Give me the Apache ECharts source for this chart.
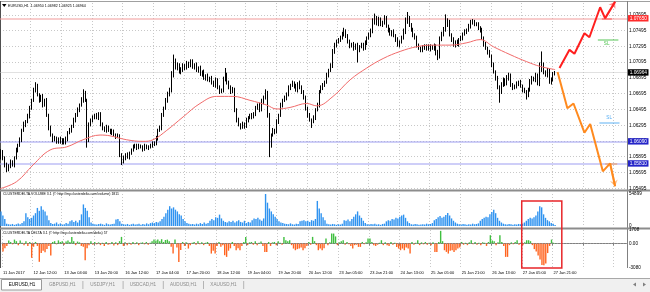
<!DOCTYPE html>
<html>
<head>
<meta charset="utf-8">
<script src="https://cdn.jsdelivr.net/npm/echarts@6.0.0/dist/echarts.min.js"></script>
<style>
html,body{margin:0;padding:0;background:#fff;overflow:hidden;}
#c{width:650px;height:292px;}
</style>
</head>
<body>
<div id="c"></div>
<script>
// ---------------- DATA ----------------
const symbolName = 'EURUSD,H1';
const timeLabels = ['11 Jan 2017','12 Jan 12:00','13 Jan 04:00','13 Jan 20:00','16 Jan 12:00','17 Jan 04:00','17 Jan 20:00','18 Jan 12:00','19 Jan 04:00','19 Jan 20:00','20 Jan 12:00','23 Jan 05:00','23 Jan 21:00','24 Jan 13:00','25 Jan 05:00','25 Jan 21:00','26 Jan 13:00','27 Jan 05:00','27 Jan 21:00'];
const priceTicks = [1.05495,1.05695,1.05895,1.06095,1.06295,1.06495,1.06695,1.06895,1.07095,1.07295,1.07495,1.07695];
const priceMin = 1.05486, priceMax = 1.07844;

const firstOpen = 1.0590;
const closes = [
1.0596,1.0588,1.0579,1.0573,1.0578,1.0583,1.0579,1.0588,1.0598,1.0604,
1.0611,1.0623,1.0630,1.0634,1.0641,1.0651,1.0661,1.0674,1.0679,1.0668,
1.0661,1.0665,1.0655,1.0661,1.0642,1.0626,1.0617,1.0611,1.0613,1.0609,
1.0612,1.0608,1.0611,1.0607,1.0612,1.0620,1.0623,1.0628,1.0636,1.0642,
1.0649,1.0655,1.0661,1.0670,1.0661,1.0611,1.0630,1.0636,1.0639,1.0642,
1.0639,1.0644,1.0630,1.0626,1.0623,1.0627,1.0623,1.0620,1.0622,1.0617,
1.0615,1.0616,1.0592,1.0583,1.0588,1.0592,1.0589,1.0594,1.0598,1.0602,
1.0604,1.0601,1.0603,1.0602,1.0599,1.0603,1.0601,1.0602,1.0603,1.0607,
1.0606,1.0613,1.0623,1.0626,1.0642,1.0651,1.0661,1.0668,1.0674,1.0693,
1.0710,1.0702,1.0706,1.0697,1.0699,1.0705,1.0702,1.0707,1.0705,1.0710,
1.0703,1.0706,1.0699,1.0702,1.0694,1.0697,1.0689,1.0692,1.0687,1.0689,
1.0684,1.0680,1.0687,1.0677,1.0672,1.0674,1.0687,1.0693,1.0684,1.0677,
1.0672,1.0674,1.0649,1.0636,1.0630,1.0627,1.0631,1.0628,1.0636,1.0639,
1.0642,1.0640,1.0644,1.0651,1.0655,1.0649,1.0659,1.0664,1.0667,1.0642,
1.0604,1.0617,1.0623,1.0621,1.0634,1.0642,1.0655,1.0661,1.0664,1.0668,
1.0677,1.0680,1.0683,1.0679,1.0674,1.0682,1.0677,1.0672,1.0664,1.0651,
1.0642,1.0636,1.0634,1.0639,1.0649,1.0655,1.0672,1.0677,1.0680,1.0684,
1.0693,1.0699,1.0705,1.0722,1.0731,1.0735,1.0738,1.0740,1.0744,1.0748,
1.0743,1.0735,1.0730,1.0732,1.0727,1.0731,1.0725,1.0729,1.0731,1.0727,
1.0734,1.0740,1.0744,1.0748,1.0760,1.0765,1.0758,1.0763,1.0757,1.0760,
1.0765,1.0755,1.0750,1.0745,1.0748,1.0743,1.0738,1.0731,1.0735,1.0740,
1.0748,1.0760,1.0765,1.0757,1.0750,1.0744,1.0740,1.0731,1.0727,1.0725,
1.0729,1.0727,1.0730,1.0726,1.0729,1.0727,1.0730,1.0722,1.0717,1.0738,
1.0745,1.0750,1.0757,1.0760,1.0744,1.0738,1.0731,1.0735,1.0732,1.0738,
1.0740,1.0745,1.0748,1.0750,1.0755,1.0759,1.0760,1.0758,1.0757,1.0753,
1.0750,1.0740,1.0732,1.0727,1.0722,1.0717,1.0706,1.0697,1.0689,1.0677,
1.0672,1.0680,1.0687,1.0682,1.0689,1.0693,1.0680,1.0677,1.0679,1.0682,
1.0684,1.0679,1.0674,1.0672,1.0668,1.0674,1.0684,1.0689,1.0687,1.0692,
1.0682,1.0699,1.0706,1.0697,1.0693,1.0699,1.0684,1.0687,1.0695,1.06964
];
// upper / lower wick lengths in pips (0.0001)
const wickUp = [
3,2,2,3,2,3,2,2,3,2, 3,2,4,2,3,3,2,3,5,3, 2,3,4,2,3,2,3,2,3,2, 2,3,2,2,3,2,3,2,3,3,
3,2,4,5,3,2,3,2,3,2, 3,2,2,3,2,3,2,2,3,2, 2,3,2,2,3,2,3,2,2,3, 2,2,3,2,2,3,2,2,3,2,
2,3,2,3,3,2,3,4,3,5, 9,4,3,2,4,3,2,4,3,3, 3,2,3,2,3,2,3,2,3,2, 3,2,3,2,3,2,4,9,3,2,
3,4,3,2,3,2,3,2,3,2, 2,3,2,3,2,3,4,3,8,6, 3,2,3,2,3,2,3,2,3,3, 3,2,3,2,3,2,4,3,2,3,
2,3,2,3,2,3,2,3,3,2, 3,2,3,4,3,3,2,3,4,5, 3,2,3,2,3,2,3,2,3,3, 3,2,3,4,5,6,3,4,3,2,
4,3,2,3,2,3,2,3,2,3, 4,6,8,3,2,3,2,3,2,2, 2,3,2,2,3,2,3,2,3,4, 3,4,13,5,3,2,3,2,3,2,
3,2,3,2,3,4,4,3,2,3, 2,3,2,3,2,3,2,3,2,3, 3,4,3,2,4,3,2,3,2,3, 2,3,2,3,2,3,4,3,2,4,
3,10,17,3,2,3,2,3,2,1.8
];
const wickDn = [
4,3,3,3,2,3,2,3,2,3, 2,3,2,3,2,3,2,2,3,2, 3,2,3,2,2,3,2,3,2,3, 3,2,3,2,2,3,2,3,2,3,
2,3,2,3,2,10,3,2,3,2, 2,3,2,3,2,3,2,2,3,2, 3,2,3,4,2,3,2,3,2,2, 2,3,2,2,3,2,2,3,2,2,
3,2,3,2,3,2,2,3,2,3, 3,2,3,2,3,2,3,2,3,2, 2,3,2,3,2,3,2,3,2,3, 3,2,3,2,3,2,3,2,3,2,
3,2,3,3,2,3,2,3,2,3, 2,3,2,3,2,3,2,3,2,3, 15,3,2,3,2,3,2,3,2,3, 2,3,2,3,2,3,2,3,2,3,
3,2,8,2,3,2,3,2,3,2, 2,3,2,3,2,3,2,3,2,2, 3,2,3,2,3,2,16,3,2,3, 2,3,2,3,2,3,2,3,2,3,
3,2,3,2,3,2,3,2,3,2, 2,3,2,3,2,3,2,3,2,3, 3,2,3,2,3,2,3,4,5,3, 2,3,2,3,2,3,2,3,2,3,
2,3,2,3,2,3,2,3,2,3, 3,2,3,2,3,2,3,2,3,2, 14,3,2,3,2,3,2,3,2,3, 3,2,3,2,6,3,2,3,2,3,
2,3,2,3,2,3,2,3,2,2.5
];
const volume = [
25000,18000,12000,4000,3000,2500,3500,2000,3000,4500,
3000,5000,8000,22000,15000,12000,14000,18000,22000,31000,
26000,34000,28000,25000,18000,10000,5000,3500,4000,6000,
3000,4500,2500,3000,5000,4000,8000,10000,7000,9000,
6000,10000,20000,37000,31000,26000,15000,6000,4000,3000,
2500,3500,4000,3000,2000,4500,3000,2500,3500,4000,
11000,12000,8000,4000,3000,2500,3500,2000,3000,4000,
2500,3000,4000,2000,3500,2500,4500,3000,5000,6000,
5000,7000,6000,8000,12000,16000,22000,28000,34000,30000,
32000,28000,25000,20000,18000,12000,8000,5000,4000,3000,
3500,2500,4000,3000,5000,3500,6000,4000,5000,9000,
12000,10000,15000,14000,19500,13000,9000,7000,6000,8000,
7000,9000,6000,8000,10000,7000,6000,9000,5000,7000,
6000,10000,13000,12000,14000,11000,9000,13000,54899,40000,
30000,25000,20000,16000,12000,8000,6000,5000,4000,3500,
3000,4500,3000,2500,4000,3500,8000,9000,10000,8000,
9000,7000,10000,9000,12000,43000,30000,22000,15000,10000,
4000,3000,2500,3500,3000,2000,3000,2500,4000,10000,
9000,11000,8000,12000,16000,20000,25000,18000,14000,9000,
5000,3000,2500,3500,3000,4000,2500,3000,2000,3500,
4000,8000,10000,9000,12000,11000,14000,13000,16000,18000,
19500,14000,8000,5000,3000,2500,3500,3000,2000,2500,
3000,2500,4000,3000,3500,5000,10000,12000,15000,17000,
14000,16000,19000,22400,18000,13000,9000,6000,4000,3000,
2500,3500,3000,2000,3000,2500,4000,3000,3500,4500,
9000,12000,14000,16000,15000,20000,24000,28000,22000,14000,
9000,6000,4000,3000,2500,3500,3000,2000,3000,2500,
3500,3000,4000,6000,9000,12000,14000,13000,15000,18000,
25000,34000,32000,20000,14000,10000,8000,5000,4000,1811
];
const volMax = 54899;
const delta = [
-1000,-600,-300,400,200,-100,500,300,-200,400,
100,-200,300,-300,200,-1800,-400,200,-300,-2300,
-1200,-900,-1100,-700,-300,-1500,200,300,-100,400,
200,300,-150,250,400,200,840,300,-200,250,
150,-300,-400,-2100,-600,-200,300,-150,200,-100,
150,-200,100,-300,200,-150,-100,200,-250,150,
-200,300,840,-300,150,-200,100,-150,200,-100,
150,-200,100,150,-100,200,-150,100,300,500,
400,500,300,550,200,450,500,300,-400,-1260,
500,-500,-2310,-800,200,-300,150,-630,-200,100,
200,-150,300,-100,150,-200,100,200,-300,-1260,
-900,-1260,-300,200,-400,-200,-1470,-1680,-900,-600,
200,-300,-840,-600,-840,-300,200,840,-200,150,
200,-150,300,-200,100,250,-300,-1050,-1050,200,
-300,150,200,-200,300,100,-150,840,420,300,
420,-200,-630,-840,-700,-630,-500,-840,-600,-300,
200,-150,840,300,-200,-840,-630,-840,-600,630,
-200,150,1260,1260,900,-200,150,300,420,-150,
200,-100,-300,-630,-200,-150,-420,-420,200,-100,
150,630,630,200,-200,-300,-150,100,420,-200,
150,-200,-300,200,-150,100,-420,-630,-840,-630,
-840,-500,-630,-1260,200,-150,100,420,-200,150,
-100,200,-150,100,-200,150,-1050,-1050,200,1600,
300,-840,-1050,-1260,-900,-840,-1050,-840,-630,-500,
200,-150,100,-200,150,420,-100,200,-150,100,
-200,150,100,-300,200,1050,400,300,-200,150,
1050,200,-300,-1680,-1680,-200,150,-100,200,420,
-150,100,-200,150,420,420,300,-200,-700,-1000,
-1500,-2000,-2700,-2730,-2500,-1200,-300,500,100,57
];
const deltaMin = -3080, deltaMax = 1708;

// moving average, [bar index, price]
const maPoints = [[-0.5,1.0549],[8.2,1.0558],[16.7,1.0579],[25.6,1.0598],[34.3,1.0602],[42.8,1.0611],[51.7,1.0617],[56.9,1.0616],[65.6,1.0611],[74.1,1.0609],[79.3,1.0611],[86.5,1.0623],[95,1.0640],[103.8,1.0657],[112.5,1.0666],[121,1.0666],[129.9,1.0661],[138.6,1.0655],[143.8,1.0650],[150.8,1.0652],[159.5,1.0657],[164.7,1.0654],[173.2,1.0666],[182.1,1.0687],[190.8,1.0702],[199.3,1.0714],[208.2,1.0723],[216.9,1.0729],[225.4,1.0731],[234.2,1.0731],[243,1.0734],[249.9,1.0738],[256.8,1.0729],[265.5,1.0719],[274.2,1.0710],[281.2,1.0704],[289,1.0700]];

// horizontal levels
const levelRed = 1.07650;
const levelsBlue = [1.06090, 1.05810];
// scenario paths, [bar index, price]
const bullPath = [[291.3,1.0702],[296.5,1.0725],[299.1,1.0720],[304.3,1.0746],[306.9,1.0741],[312.5,1.0779],[315.1,1.0765],[320.3,1.0786]];
const bearPath = [[290.3,1.0697],[295.4,1.0651],[298.6,1.0657],[304.3,1.0620],[307.3,1.0631],[313.9,1.0571],[317.7,1.0581],[320.3,1.0552]];
const bullStop = {from:313.4, to:318.6, price:1.07650};
const bearStop = {from:315.1, to:321.4, price:1.05811};
const slGreen = {from:311.3, to:322.0, price:1.07375, textAt:[315.9,1.07333]};
const slBlue = {from:312.1, to:322.6, price:1.06327, textAt:[317.2,1.06395]};
const focusBox = {fromBar:271.6, toBar:292.5, volumeTop:42900, deltaBottom:-3080};
const tabs = ['EURUSD,H1','GBPUSD,H1','USDJPY,H1','USDCAD,H1','AUDUSD,H1','XAUUSD,H1'];

// ---------------- BUILD ----------------
const FONT = 'Liberation Sans';
const NCAT = 327;
const cats = Array.from({length: NCAT}, (_, i) => String(i));
const candles = closes.map((c, i) => {
  const o = i ? closes[i - 1] : firstOpen;
  const h = Math.max(o, c) + wickUp[i] / 1e4;
  const l = Math.min(o, c) - wickDn[i] / 1e4;
  return [o, c, l, h];
});
const lastC = candles[candles.length - 1];
const lastPrice = lastC[1];
const titleText = symbolName + '  ' + [lastC[0], lastC[3], lastC[2], lastC[1]].map(v => v.toFixed(5)).join(' ');

const chart = echarts.init(document.getElementById('c'), null, {renderer: 'canvas', width: 650, height: 292});

const gridSplit = {show: true, interval: 15, lineStyle: {color: '#c8c8c8', type: [1, 2], width: 1}};
function catAxis(gi, showLabel) {
  return {
    gridIndex: gi, type: 'category', data: cats, boundaryGap: true,
    axisLine: {show: showLabel, lineStyle: {color: '#808080'}},
    axisTick: {show: showLabel, interval: 15, length: 2, lineStyle: {color: '#808080'}},
    axisLabel: {show: showLabel, interval: 15, align: 'left', margin: 3, fontSize: 4, fontFamily: FONT, color: '#000',
      formatter: (v, idx) => timeLabels[idx / 16] || ''},
    splitLine: gridSplit
  };
}
const fullSpan = p => [[-0.5, p], [NCAT - 0.5, p]];
const levelLines = [
  {coords: fullSpan(lastPrice), lineStyle: {color: '#c4c4c4', width: 1}},
  {coords: fullSpan(levelRed), lineStyle: {color: '#f29a9a', width: 1.8}},
  ...levelsBlue.map(p => ({coords: fullSpan(p), lineStyle: {color: '#9d9df2', width: 1.8}}))
];

const option = {
  animation: false,
  backgroundColor: '#ffffff',
  grid: [
    {left: 0, top: 3, width: 627, height: 186},
    {left: 0, top: 194, width: 627, height: 32},
    {left: 0, top: 230, width: 627, height: 38}
  ],
  xAxis: [catAxis(0, false), catAxis(1, false), catAxis(2, true),
    {gridIndex: 0, type: 'value', min: -0.5, max: NCAT - 0.5, show: false}],
  yAxis: [
    {gridIndex: 0, type: 'value', position: 'right', min: priceMin, max: priceMax,
      axisLine: {show: false}, axisTick: {show: false, customValues: priceTicks},
      axisLabel: {customValues: priceTicks, fontSize: 4.8, margin: 2, color: '#000', fontFamily: FONT, formatter: v => v.toFixed(5)},
      splitLine: {show: true, lineStyle: {color: '#c8c8c8', type: [1, 2]}}},
    {gridIndex: 1, type: 'value', position: 'right', min: 0, max: volMax, interval: volMax,
      axisLine: {show: false}, axisTick: {show: false}, splitLine: {show: false},
      axisLabel: {fontSize: 4.6, margin: 2, color: '#000', fontFamily: FONT, formatter: v => String(Math.round(v))}},
    {gridIndex: 2, type: 'value', position: 'right', min: deltaMin, max: deltaMax,
      axisLine: {show: false}, axisTick: {show: false, customValues: [deltaMin, 0, deltaMax]}, splitLine: {show: false},
      axisLabel: {customValues: [deltaMin, 0, deltaMax], fontSize: 4.6, margin: 2, color: '#000', fontFamily: FONT,
        formatter: v => v === 0 ? '0.00' : String(v)}}
  ],
  series: [
    {type: 'lines', coordinateSystem: 'cartesian2d', xAxisIndex: 3, yAxisIndex: 0, z: 1, silent: true,
      symbol: ['none', 'none'], data: levelLines},
    {type: 'candlestick', xAxisIndex: 0, yAxisIndex: 0, data: candles, barWidth: 1.2, z: 2,
      itemStyle: {color: '#ffffff', color0: '#000000', borderColor: '#000000', borderColor0: '#000000', borderWidth: 1}},
    {type: 'line', xAxisIndex: 3, yAxisIndex: 0, data: maPoints, smooth: 0.4, showSymbol: false, z: 3,
      lineStyle: {color: '#f06a6a', width: 1}},
    {type: 'line', xAxisIndex: 3, yAxisIndex: 0, data: bullPath, showSymbol: false, clip: false, z: 6,
      lineStyle: {color: '#ff1f1f', width: 2}},
    {type: 'line', xAxisIndex: 3, yAxisIndex: 0, data: bearPath, showSymbol: false, clip: false, z: 6,
      lineStyle: {color: '#ff8a1e', width: 2}},
    {type: 'lines', coordinateSystem: 'cartesian2d', xAxisIndex: 3, yAxisIndex: 0, clip: false, z: 7,
      symbol: ['none', 'arrow'], symbolSize: 6,
      data: [
        {coords: bullPath.slice(-2), lineStyle: {color: '#ff1f1f', width: 2}},
        {coords: bearPath.slice(-2), lineStyle: {color: '#ff8a1e', width: 2}}
      ]},
    {type: 'lines', coordinateSystem: 'cartesian2d', xAxisIndex: 3, yAxisIndex: 0, clip: false, z: 7,
      symbol: ['none', 'none'],
      data: [
        {coords: [[bullStop.from, bullStop.price], [bullStop.to, bullStop.price]], lineStyle: {color: '#ff1f1f', width: 1.5}},
        {coords: [[bearStop.from, bearStop.price], [bearStop.to, bearStop.price]], lineStyle: {color: '#ff8a1e', width: 1.5}},
        {coords: [[slGreen.from, slGreen.price], [slGreen.to, slGreen.price]], lineStyle: {color: '#1fb41f', width: 1.5}},
        {coords: [[slBlue.from, slBlue.price], [slBlue.to, slBlue.price]], lineStyle: {color: '#2a98f0', width: 1.5}}
      ]},
    {type: 'scatter', xAxisIndex: 3, yAxisIndex: 0, symbolSize: 0, z: 8,
      data: [
        {value: slGreen.textAt, label: {color: '#1fb41f'}},
        {value: slBlue.textAt, label: {color: '#2a98f0'}}
      ],
      label: {show: true, position: 'inside', formatter: 'SL', fontSize: 4.6, fontFamily: FONT}},
    {type: 'bar', xAxisIndex: 1, yAxisIndex: 1, data: volume, barWidth: 1.4, itemStyle: {color: '#2f93f0'}},
    {type: 'bar', xAxisIndex: 2, yAxisIndex: 2, barWidth: 1.4,
      data: delta.map(v => ({value: v, itemStyle: {color: v >= 0 ? '#3fbf3f' : '#ff6420'}})),
      markLine: {silent: true, symbol: ['none', 'none'], label: {show: false},
        data: [{yAxis: 0}], lineStyle: {color: '#9a9a9a', type: [1, 2], width: 1}}}
  ]
};
chart.setOption(option);

// ---------------- FRAME / TEXT ----------------
const G = [];
G.push({type: 'rect', shape: {x: 0, y: 278, width: 650, height: 14}, style: {fill: '#f0f0f0'}});
G.push({type: 'line', shape: {x1: 0, y1: 278.5, x2: 650, y2: 278.5}, style: {stroke: '#a8a8a8', lineWidth: 1}});
G.push({type: 'line', shape: {x1: 0, y1: 1.5, x2: 650, y2: 1.5}, style: {stroke: '#a0a0a0', lineWidth: 1}});
G.push({type: 'line', shape: {x1: 0.5, y1: 1, x2: 0.5, y2: 268}, style: {stroke: '#505050', lineWidth: 1}});
G.push({type: 'line', shape: {x1: 627.5, y1: 1, x2: 627.5, y2: 268}, style: {stroke: '#808080', lineWidth: 1}});
[190.5, 228.5].forEach(y => G.push({type: 'line', shape: {x1: 0, y1: y, x2: 650, y2: y}, style: {stroke: '#8c8c8c', lineWidth: 2}}));
G.push({type: 'polygon', shape: {points: [[2, 4], [6.5, 4], [4.25, 7]]}, style: {fill: '#000'}});
G.push({type: 'text', x: 8, y: 5.5, style: {text: titleText, font: '3.6px "Liberation Sans"', fill: '#000', verticalAlign: 'middle'}});
G.push({type: 'text', x: 3, y: 194.5, style: {text: 'CLUSTERDELTA VOLUME 3.1 (\u00a9 http://my.clusterdelta.com/volume) ' + volume[volume.length - 1], font: '3.5px "Liberation Sans"', fill: '#000', verticalAlign: 'middle'}});
G.push({type: 'text', x: 3, y: 232.7, style: {text: 'CLUSTERDELTA DELTA 3.1 (\u00a9 http://my.clusterdelta.com/delta) ' + delta[delta.length - 1], font: '3.5px "Liberation Sans"', fill: '#000', verticalAlign: 'middle'}});
// price boxes on the right scale
const priceBoxes = [[lastPrice, '#000000'], [levelRed, '#ff2b2b'], ...levelsBlue.map(p => [p, '#2424c8'])];
priceBoxes.forEach(([p, bg]) => {
  const y = chart.convertToPixel({yAxisIndex: 0}, p);
  G.push({type: 'rect', z: 110, shape: {x: 628, y: y - 3.2, width: 20.5, height: 6.4}, style: {fill: bg}});
  G.push({type: 'text', z: 111, x: 638.3, y: y + 0.2, style: {text: p.toFixed(5), font: '4.8px "Liberation Sans"', fill: '#fff', align: 'center', verticalAlign: 'middle'}});
});
// tabs
G.push({type: 'rect', shape: {x: 1.5, y: 279.5, width: 40, height: 10.5}, style: {fill: '#ffffff', stroke: '#9a9a9a', lineWidth: 1}});
tabs.forEach((t, k) => {
  G.push({type: 'text', x: 22 + k * 40.3, y: 285, style: {text: t, font: '4.6px "Liberation Sans"', fill: k === 0 ? '#000' : '#8a8a8a', align: 'center', verticalAlign: 'middle'}});
  if (k > 0) G.push({type: 'line', shape: {x1: 2 + 40.2 * (k + 1) + 0.5, y1: 281, x2: 2 + 40.2 * (k + 1) + 0.5, y2: 289}, style: {stroke: '#b4b4b4', lineWidth: 1}});
});
G.push({type: 'polygon', shape: {points: [[633, 284.5], [636, 282.5], [636, 286.5]]}, style: {fill: '#808080'}});
G.push({type: 'polygon', shape: {points: [[646, 284.5], [643, 282.5], [643, 286.5]]}, style: {fill: '#808080'}});
// focus rectangle
const bx1 = chart.convertToPixel({xAxisIndex: 3}, focusBox.fromBar);
const bx2 = chart.convertToPixel({xAxisIndex: 3}, focusBox.toBar);
const by1 = chart.convertToPixel({yAxisIndex: 1}, focusBox.volumeTop);
const by2 = chart.convertToPixel({yAxisIndex: 2}, focusBox.deltaBottom);
G.push({type: 'rect', z: 100, shape: {x: bx1, y: by1, width: bx2 - bx1, height: by2 - by1}, style: {fill: 'none', stroke: '#e8262a', lineWidth: 1.5}});
chart.setOption({graphic: G});
</script>
</body>
</html>
